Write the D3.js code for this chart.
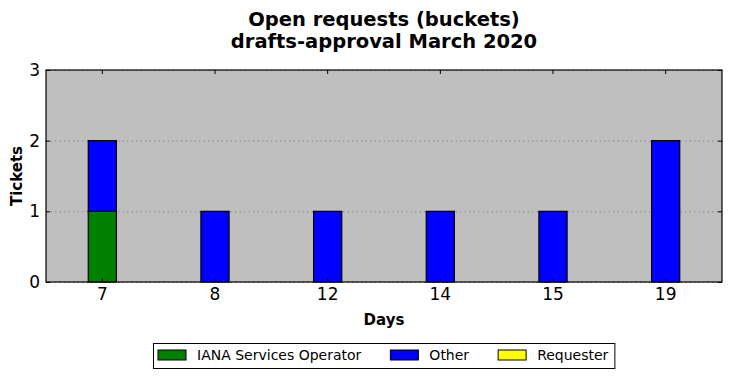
<!DOCTYPE html>
<html>
<head>
<meta charset="utf-8">
<script src="https://cdn.jsdelivr.net/npm/d3@7"></script>
<style>
  body { margin: 0; background: #fff; }
  text { font-family: "DejaVu Sans", sans-serif; }
</style>
</head>
<body>
<svg id="drawing_region"></svg>
<script>
const days = ['7', '8', '12', '14', '15', '19'];
const series = ['IANA Services Operator', 'Other', 'Requester'];
const colors = ['#008000', '#0000ff', '#ffff00'];
const iana = [1, 0, 0, 0, 0, 0];
const other = [1, 1, 1, 1, 1, 2];
const requester = [0, 0, 0, 0, 0, 0];
const yTicks = [0, 1, 2, 3];

const width = 731, height = 378;
const margin = {top: 70, right: 9, bottom: 96, left: 46};
const chart_width = width - margin.left - margin.right;
const chart_height = height - margin.top - margin.bottom;

const svg = d3.select('#drawing_region')
  .attr('width', width)
  .attr('height', height);

const rows = days.map((d, i) => ({day: d, 'IANA Services Operator': iana[i], 'Other': other[i], 'Requester': requester[i]}));
const stacked = d3.stack().keys(series)(rows);

const x_scale = d3.scaleBand().domain(days).range([0, chart_width]).padding(0);
const y_scale = d3.scaleLinear().domain([0, 3]).range([chart_height, 0]);
const color = d3.scaleOrdinal().domain(series).range(colors);
const bar_w = x_scale.bandwidth() * 0.25;

const chart = svg.append('g')
  .attr('transform', `translate(${margin.left}, ${margin.top})`);

chart.append('rect')
  .attr('width', chart_width)
  .attr('height', chart_height)
  .attr('fill', '#bfbfbf');

// grid
chart.append('g').selectAll('line')
  .data(yTicks)
  .join('line')
  .attr('x1', 0).attr('x2', chart_width)
  .attr('y1', d => y_scale(d) + 0.5).attr('y2', d => y_scale(d) + 0.5)
  .attr('stroke', '#888')
  .attr('stroke-width', 1)
  .attr('stroke-dasharray', '1.5,3');

// bars
chart.append('g').selectAll('g')
  .data(stacked)
  .join('g')
  .attr('fill', d => color(d.key))
  .selectAll('rect')
  .data(d => d.filter(s => s[1] - s[0] > 0))
  .join('rect')
  .attr('x', d => x_scale(d.data.day) + x_scale.bandwidth() / 2 - bar_w / 2)
  .attr('y', d => y_scale(d[1]))
  .attr('width', bar_w)
  .attr('height', d => y_scale(d[0]) - y_scale(d[1]))
  .attr('stroke', '#000')
  .attr('stroke-width', 1.2);

// axes (ticks inside, matplotlib classic)
const tickLen = 4;
const xaxis_b = d3.axisBottom(x_scale).tickSize(-tickLen).tickPadding(6);
const xaxis_t = d3.axisTop(x_scale).tickSize(-tickLen).tickFormat('');
const yaxis_l = d3.axisLeft(y_scale).tickValues(yTicks).tickSize(-tickLen).tickPadding(6).tickFormat(d3.format('d'));
const yaxis_r = d3.axisRight(y_scale).tickValues(yTicks).tickSize(-tickLen).tickFormat('');

const gB = chart.append('g').attr('transform', `translate(0, ${chart_height})`).call(xaxis_b);
const gT = chart.append('g').call(xaxis_t);
const gL = chart.append('g').call(yaxis_l);
const gR = chart.append('g').attr('transform', `translate(${chart_width}, 0)`).call(yaxis_r);

[gB, gT, gL, gR].forEach(g => {
  g.attr('font-size', 17).attr('font-family', '"DejaVu Sans", sans-serif');
  g.select('.domain').remove();
  g.selectAll('line').attr('stroke', '#000');
  g.selectAll('text').attr('fill', '#000');
});

chart.append('rect')
  .attr('width', chart_width)
  .attr('height', chart_height)
  .attr('fill', 'none')
  .attr('stroke', '#000')
  .attr('stroke-width', 1.2);

// titles
svg.append('text')
  .attr('x', margin.left + chart_width / 2).attr('y', 26)
  .attr('text-anchor', 'middle').attr('font-size', 19.5).attr('font-weight', 'bold')
  .text('Open requests (buckets)');
svg.append('text')
  .attr('x', margin.left + chart_width / 2).attr('y', 48)
  .attr('text-anchor', 'middle').attr('font-size', 19.5).attr('font-weight', 'bold')
  .text('drafts-approval March 2020');

svg.append('text')
  .attr('x', margin.left + chart_width / 2).attr('y', 325)
  .attr('text-anchor', 'middle').attr('font-size', 15).attr('font-weight', 'bold')
  .text('Days');

svg.append('text')
  .attr('transform', `translate(22, ${margin.top + chart_height / 2}) rotate(-90)`)
  .attr('text-anchor', 'middle').attr('font-size', 15).attr('font-weight', 'bold')
  .text('Tickets');

// legend
const legend = svg.append('g');
const box = legend.append('rect')
  .attr('fill', '#fff').attr('stroke', '#000').attr('stroke-width', 1);
let cx = 5;
series.forEach(s => {
  const g = legend.append('g').attr('transform', `translate(${cx}, 0)`);
  g.append('rect')
    .attr('x', 0).attr('y', 7).attr('width', 28).attr('height', 10)
    .attr('fill', color(s)).attr('stroke', '#000').attr('stroke-width', 1);
  const t = g.append('text')
    .attr('x', 39).attr('y', 17)
    .attr('font-size', 14)
    .text(s);
  cx += 39 + t.node().getComputedTextLength() + 29;
});
const legend_w = cx - 29 + 6;
box.attr('x', 0.5).attr('y', 0.5).attr('width', legend_w).attr('height', 25);
legend.attr('transform', `translate(${Math.round(margin.left + chart_width / 2 - legend_w / 2)}, 343)`);
</script>
</body>
</html>
